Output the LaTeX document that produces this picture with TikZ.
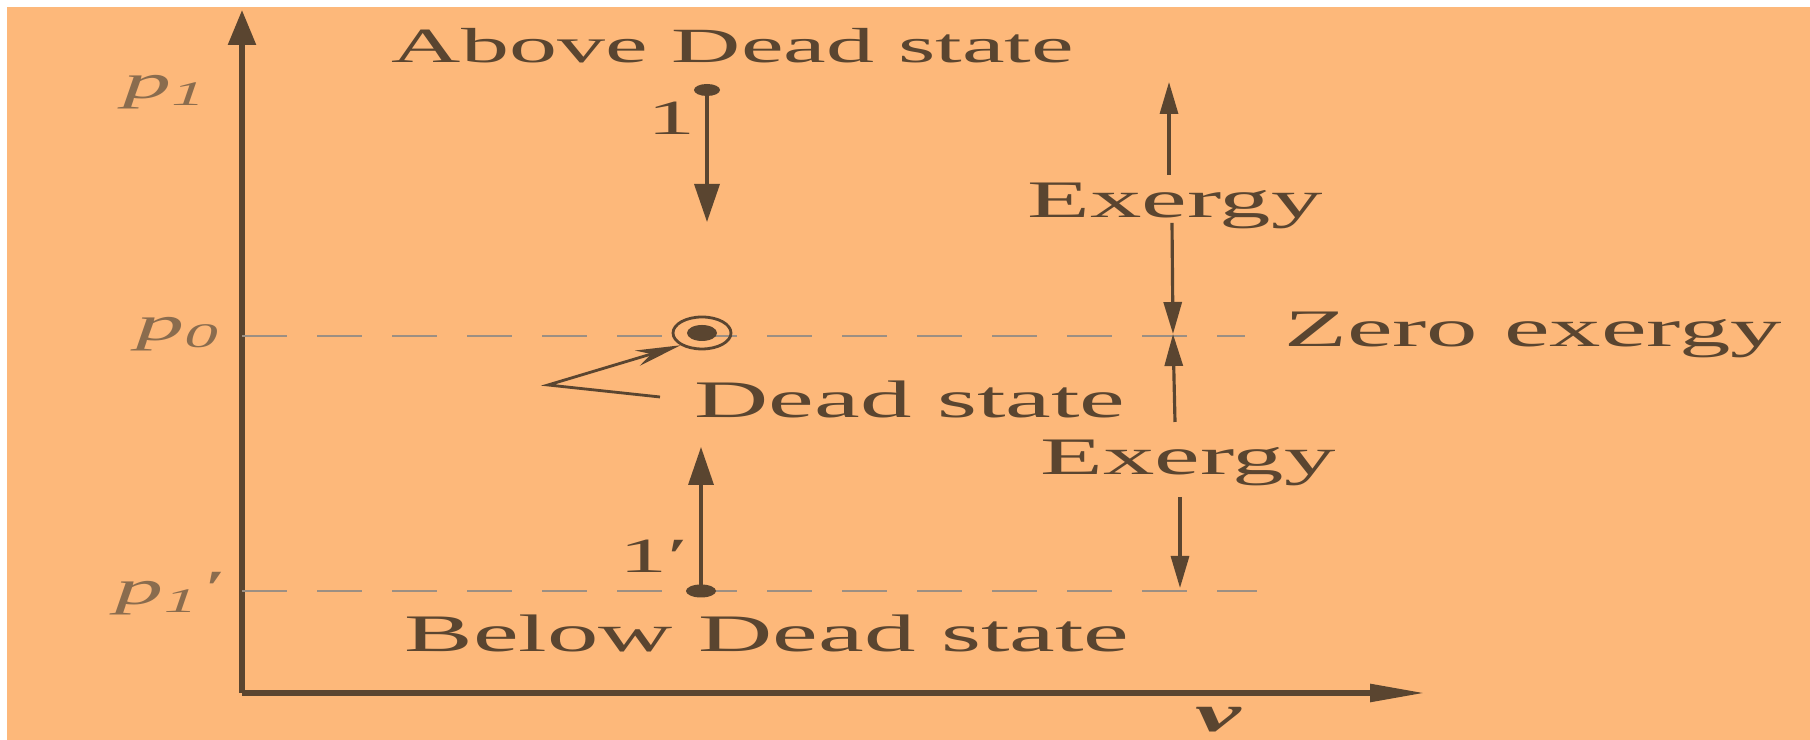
\documentclass[tikz,border=0pt]{standalone}
\usepackage{fontspec}
\setmainfont{Liberation Serif}[FakeStretch=1.95]
\usetikzlibrary{arrows.meta,shapes.geometric}
\definecolor{cpaper}{HTML}{FDB87A}
\definecolor{cink}{HTML}{5A4530}
\definecolor{cpale}{HTML}{8A6C4E}

\begin{document}
\begin{tikzpicture}[
    axis/.style={cink, line width=1.6pt},
    guide/.style={cink!60, line width=0.5pt, dash pattern=on 0.45cm off 0.3cm},
    move/.style={cink, line width=1pt, -{Triangle[length=0.38cm, width=0.25cm]}},
    exg/.style={cink, line width=0.9pt, -{Triangle[length=0.32cm, width=0.18cm]}},
    lbl/.style={font=\fontsize{15}{18}\selectfont, text=cink, inner sep=0pt, anchor=base},
    plbl/.style={font=\fontsize{14}{16}\selectfont\itshape, text=cpale, inner sep=0pt},
]

% Paper
\fill[white] (0,0) rectangle (18.10,7.40);
\fill[cpaper] (0.07,0) rectangle (18.10,7.33);

% Axes
\coordinate (O) at (2.42,0.47);
\coordinate (ytop) at (2.42,7.30);
\coordinate (xend) at (14.25,0.47);
\draw[axis, -{Triangle[length=0.35cm, width=0.27cm]}] (O) -- (ytop);
\draw[axis, -{Triangle[length=0.55cm, width=0.17cm]}] (O) -- (xend);
\node[font=\fontsize{15}{18}\selectfont\bfseries\itshape, text=cink, inner sep=0pt] (vlab) at (12.18,0.20) {ν};

% Pressure levels
\node[plbl] (p1) at (1.65,6.48) {p\textsubscript{1}};
\node[plbl] (p0) at (1.78,4.06) {p\textsubscript{0}};
\node[plbl] (p1b) at (1.68,1.46) {p\textsubscript{1}′};
\coordinate (g0a) at (2.42,4.04);
\coordinate (g0b) at (12.45,4.04);
\coordinate (g1a) at (2.42,1.49);
\coordinate (g1b) at (12.57,1.49);
\draw[guide] (g0a) -- (g0b);
\draw[guide] (g1a) -- (g1b);

% Dead state point
\node[draw=cink, line width=0.8pt, ellipse, minimum width=0.58cm, minimum height=0.32cm, inner sep=0pt] (dead) at (7.02,4.07) {};
\fill[cink] (dead.center) ellipse [x radius=0.15, y radius=0.08];
\node[lbl] (deadlab) at (9.10,3.22) {Dead state};
\coordinate (lk) at (5.48,3.55);
\coordinate (lt) at (6.60,3.43);
\draw[cink, line width=0.8pt, -{Stealth[length=0.45cm, width=0.16cm]}] (lt) -- (lk) -- (dead.south west);

% State 1 (above)
\node[lbl, font=\fontsize{14}{16}\selectfont] (above) at (7.33,6.77) {Above Dead state};
\coordinate (s1) at (7.07,6.50);
\coordinate (e1) at (7.07,5.18);
\fill[cink] (s1) ellipse [x radius=0.13, y radius=0.06];
\draw[move] (s1) -- (e1);
\node[lbl, font=\fontsize{14}{16}\selectfont] (one) at (6.71,6.05) {1};

% State 1' (below)
\node[lbl] (below) at (7.67,0.88) {Below Dead state};
\coordinate (s2) at (7.01,1.49);
\coordinate (e2) at (7.01,2.93);
\fill[cink] (s2) ellipse [x radius=0.15, y radius=0.065];
\draw[move] (s2) -- (e2);
\node[lbl, font=\fontsize{14}{16}\selectfont] (oneb) at (6.54,1.67) {1′};

% Exergy scale
\node[lbl] (exup) at (11.75,5.22) {Exergy};
\node[lbl] (exdn) at (11.88,2.65) {Exergy};
\node[lbl] (zero) at (15.33,3.93) {Zero exergy};
\coordinate (z0) at (11.73,4.06);
\coordinate (u1) at (11.69,5.65);
\coordinate (u2) at (11.69,6.58);
\coordinate (d1) at (11.72,5.17);
\coordinate (d2) at (11.75,3.18);
\coordinate (b1) at (11.80,2.43);
\coordinate (b2) at (11.80,1.52);
\draw[exg] (u1) -- (u2);
\draw[exg] (d1) -- (z0);
\draw[exg] (d2) -- (z0);
\draw[exg] (b1) -- (b2);

\end{tikzpicture}
\end{document}
